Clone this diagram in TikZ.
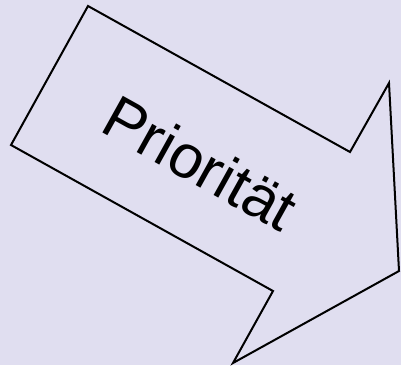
\documentclass[tikz,border=0pt]{standalone}
\usepackage{fontspec}
\setmainfont{Liberation Sans}
\usetikzlibrary{positioning}
\definecolor{bgpurple}{RGB}{224,222,240}

\begin{document}
\begin{tikzpicture}[x=1pt, y=-1pt]

\tikzset{
  bigarrow/.style={draw=black, line width=2pt, line join=miter},
  arrowtext/.style={font=\fontsize{61}{70}\selectfont, anchor=base,
    rotate=-29.1, inner sep=0pt}
}

% ==========================
% Background
% ==========================
\fill[bgpurple] (0,0) rectangle (401,365);
\useasboundingbox (0,0) rectangle (401,365);

% ==========================
% Arrow outline
% ==========================
\coordinate (tl) at (88,6);
\coordinate (notchtop) at (350,152);
\coordinate (headtop) at (389,83);
\coordinate (tip) at (399,271);
\coordinate (headbot) at (233,363);
\coordinate (notchbot) at (273,291);
\coordinate (bl) at (11,145);

\draw[bigarrow] (tl) -- (notchtop) -- (headtop) -- (tip) -- (headbot)
  -- (notchbot) -- (bl) -- cycle;

% Label
\node[arrowtext] (prio) at (190,182) {Priorität};

\end{tikzpicture}
\end{document}
